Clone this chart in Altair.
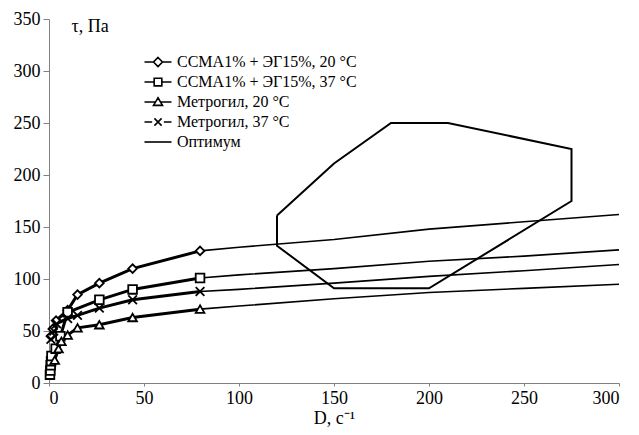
import altair as alt
import pandas as pd

# ---------------- data ----------------
series_names = [
    "ССМА1% + ЭГ15%, 20 °C",
    "ССМА1% + ЭГ15%, 37 °C",
    "Метрогил, 20 °C",
    "Метрогил, 37 °C",
]
optimum_name = "Оптимум"

# measured points (bold lines with markers)
d_ssma20 = [1, 2, 3.7, 9.8, 15, 26.5, 44, 79.5]
t_ssma20 = [45, 52, 60, 70, 85, 96, 110, 127]

d_ssma37 = [0.5, 0.7, 0.9, 1.1, 1.3, 3.5, 6, 9.8, 26.5, 44, 79.5]
t_ssma37 = [8, 12, 17, 21, 26, 33, 45, 68, 80, 90, 101]

d_metro20 = [3, 5, 6.5, 9.8, 15, 26.5, 44, 79.5]
t_metro20 = [22, 33, 40, 46, 53, 56, 63, 71]

d_metro37 = [1, 2.5, 4, 9.8, 15, 26.5, 44, 79.5]
t_metro37 = [42, 50, 57, 62, 65, 72, 80, 88]

# thin continuation lines
d_ext = [79.5, 100, 150, 200, 250, 300]
t_ext_ssma20 = [127, 130.5, 138, 148, 155, 162]
t_ext_ssma37 = [101, 104, 110, 117, 122, 128]
t_ext_metro20 = [71, 74, 81, 87, 91, 95]
t_ext_metro37 = [88, 90, 96, 102.5, 108, 114]

# optimum region (closed polygon)
d_opt = [120, 150, 180, 210, 275, 275, 200, 150, 120, 120]
t_opt = [161, 211, 250, 250, 225, 175, 91, 91, 132, 161]

# ---------------- tables ----------------
measured = [
    (series_names[0], d_ssma20, t_ssma20),
    (series_names[1], d_ssma37, t_ssma37),
    (series_names[2], d_metro20, t_metro20),
    (series_names[3], d_metro37, t_metro37),
]
ext = [
    (series_names[0], t_ext_ssma20),
    (series_names[1], t_ext_ssma37),
    (series_names[2], t_ext_metro20),
    (series_names[3], t_ext_metro37),
]

rows_m = []
for name, ds, ts in measured:
    for i, (d, t) in enumerate(zip(ds, ts)):
        rows_m.append({"series": name, "D": d, "tau": t, "i": i})
df_m = pd.DataFrame(rows_m)

rows_e = []
for name, ts in ext:
    for i, (d, t) in enumerate(zip(d_ext, ts)):
        rows_e.append({"series": name, "D": d, "tau": t, "i": i})
df_e = pd.DataFrame(rows_e)

df_o = pd.DataFrame({"series": optimum_name, "D": d_opt, "tau": t_opt,
                     "i": list(range(len(d_opt)))})

df_leg = pd.concat([df_m, df_o], ignore_index=True)

FONT = "Times New Roman, Liberation Serif, serif"

x_enc = alt.X("D:Q", scale=alt.Scale(domain=[0, 300], nice=False),
              axis=alt.Axis(values=[0, 50, 100, 150, 200, 250, 300], tickSize=3,
                            labelPadding=3,
                            title="D, с⁻¹", titleFontWeight="normal",
                            titleFont=FONT, titleFontSize=18, titlePadding=2))
y_enc = alt.Y("tau:Q", scale=alt.Scale(domain=[0, 350], nice=False),
              axis=alt.Axis(values=[0, 50, 100, 150, 200, 250, 300, 350], tickSize=6,
                            labelPadding=3,
                            title="τ, Па", titleAngle=0, titleAlign="left",
                            titleBaseline="alphabetic", titleX=22, titleY=12,
                            titleFont=FONT, titleFontSize=18,
                            titleFontWeight="normal"))

base_m = alt.Chart(df_m)

thick = base_m.mark_line(color="black", strokeWidth=3).encode(
    x=x_enc, y=y_enc, detail="series:N", order="i:Q")

thin = alt.Chart(df_e).mark_line(color="black", strokeWidth=1.6).encode(
    x="D:Q", y="tau:Q", detail="series:N", order="i:Q")

poly = alt.Chart(df_o).mark_line(color="black", strokeWidth=2).encode(
    x="D:Q", y="tau:Q", order="i:Q")

x_path = "M-1,-1L1,1M-1,1L1,-1"
points = base_m.mark_point(fill="white", stroke="black", strokeWidth=1.8,
                           opacity=1, size=75, filled=False).encode(
    x="D:Q", y="tau:Q",
    shape=alt.Shape("series:N",
                    scale=alt.Scale(domain=series_names,
                                    range=["diamond", "square", "triangle-up", x_path]),
                    legend=None))

leg_paths = [
    "M-3,0H-1M1,0H3M0,-1L1,0L0,1L-1,0Z",
    "M-3,0H-0.85M0.85,0H3M-0.85,-0.85H0.85V0.85H-0.85Z",
    "M-3,0H-0.56M0.56,0H3M0,-0.95L1,0.75H-1Z",
    "M-3,0H-1.3M1.3,0H3M-0.8,-0.8L0.8,0.8M-0.8,0.8L0.8,-0.8",
    "M-3,0H3",
]
legend_layer = alt.Chart(df_leg).mark_point(opacity=0, size=81).encode(
    x="D:Q", y="tau:Q",
    shape=alt.Shape("series:N",
                    scale=alt.Scale(domain=series_names + [optimum_name], range=leg_paths),
                    legend=alt.Legend(title=None, orient="none", legendX=101, legendY=35,
                                      symbolSize=81, symbolStrokeWidth=1.6,
                                      symbolStrokeColor="black", symbolFillColor="white",
                                      symbolOpacity=1, labelFont=FONT, labelFontSize=16,
                                      labelColor="black", labelOffset=11, labelLimit=0,
                                      rowPadding=4, padding=0)))

chart = alt.layer(poly, thin, thick, points, legend_layer).resolve_scale(
    shape="independent"
).properties(
    width=570, height=364,
    autosize=alt.AutoSizeParams(type="none"),
    padding={"left": 49, "top": 19, "right": 20, "bottom": 52},
).configure_view(stroke=None).configure_axis(
    grid=False, domainColor="#808080", tickColor="#808080",
    labelFont=FONT, labelFontSize=18, labelColor="black",
    titleColor="black",
)

chart.save("out.html", embed_options={"renderer": "svg", "actions": False})
